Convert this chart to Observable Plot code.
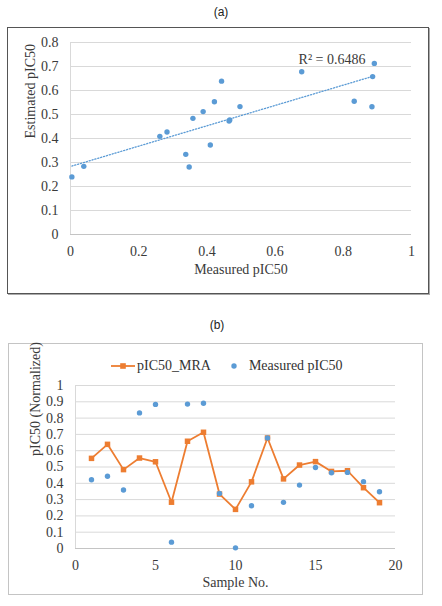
<!DOCTYPE html>
<html>
<head>
<meta charset="utf-8">
<script src="https://cdn.jsdelivr.net/npm/d3@7"></script>
<script src="https://cdn.jsdelivr.net/npm/@observablehq/plot@0.6"></script>
<style>
  body { margin: 0; background: #fff; }
  #page { position: relative; width: 442px; height: 606px; overflow: hidden; background: #fff; }
  .ttl { position: absolute; width: 40px; text-align: center; line-height: 16px;
         font-family: "Liberation Sans", Arial, sans-serif; font-size: 12px; color: #222; }
  .box { position: absolute; box-sizing: border-box; }
  #boxA { left: 7px; top: 27px; width: 422px; height: 267px; border: 1px solid #555; box-shadow: 1px 1px 0 #aaa; }
  #boxB { left: 8px; top: 343px; width: 415px; height: 252px; border: 1px solid #c4c4c4; }
  .holder { position: absolute; left: 0; }
  #legend { position: absolute; left: 111px; top: 358px; height: 16px; display: flex; align-items: center;
            font-family: "Liberation Serif", "Times New Roman", serif; font-size: 14px; color: #333; line-height: 16px; }
  #legend svg { display: block; }
</style>
</head>
<body>
<div id="page">
  <div class="ttl" style="left:201px;top:4px;">(a)</div>
  <div class="box" id="boxA"></div>
  <div class="holder" id="chartA" style="top:27px;"></div>
  <div class="ttl" style="left:197px;top:317px;">(b)</div>
  <div class="box" id="boxB"></div>
  <div id="legend"></div>
  <div class="holder" id="chartB" style="top:376px;"></div>
</div>
<script>
// ---- data ----
const sampleNo = [1, 2, 3, 4, 5, 6, 7, 8, 9, 10, 11, 12, 13, 14, 15, 16, 17, 18, 19];
const measuredPIC50 = [0.422, 0.443, 0.359, 0.832, 0.884, 0.039, 0.886, 0.891, 0.338, 0.004, 0.262, 0.678, 0.283, 0.389, 0.497, 0.465, 0.467, 0.410, 0.348];
const pIC50MRA = [0.553, 0.639, 0.484, 0.555, 0.532, 0.284, 0.658, 0.713, 0.334, 0.240, 0.409, 0.678, 0.427, 0.512, 0.533, 0.473, 0.477, 0.373, 0.281];
const seriesNames = ["pIC50_MRA", "Measured pIC50"];
const r2Label = "R² = 0.6486";
const xTitleA = "Measured pIC50";
const yTitleA = "Estimated pIC50";
const xTitleB = "Sample No.";
const yTitleB = "pIC50 (Normalized)";
const xTicksA = [0, 0.2, 0.4, 0.6, 0.8, 1];
const yTicksA = [0, 0.1, 0.2, 0.3, 0.4, 0.5, 0.6, 0.7, 0.8];
const xTicksB = [0, 5, 10, 15, 20];
const yTicksB = [0, 0.1, 0.2, 0.3, 0.4, 0.5, 0.6, 0.7, 0.8, 0.9, 1];

const rows = sampleNo.map((s, i) => ({sample: s, measured: measuredPIC50[i], mra: pIC50MRA[i]}));

const BLUE = "#5B9BD5", ORANGE = "#ED7D31", GRID = "#d9d9d9", AXIS = "#c4c4c4", INK = "#3a3a3a";
const fmt = d => String(d);
const style = {fontFamily: '"Liberation Serif", "Times New Roman", serif', fontSize: "14px",
               background: "transparent", color: INK, overflow: "visible"};

// ---- chart (a) ----
const chartA = Plot.plot({
  width: 430, height: 267,
  marginLeft: 70, marginRight: 19, marginTop: 15, marginBottom: 60,
  style,
  x: {domain: [0, 1], ticks: xTicksA, tickFormat: fmt, tickSize: 0, tickPadding: 12, label: null},
  y: {domain: [0, 0.8], ticks: yTicksA, tickFormat: fmt, tickSize: 0, tickPadding: 12, label: null},
  marks: [
    Plot.gridY(yTicksA, {stroke: GRID, strokeOpacity: 1}),
    Plot.ruleX([0], {stroke: GRID}),
    Plot.ruleY([0], {stroke: AXIS}),
    Plot.linearRegressionY(rows, {x: "measured", y: "mra", ci: 0, stroke: BLUE, strokeWidth: 1.3, strokeDasharray: "1.2,1.8"}),
    Plot.dot(rows, {x: "measured", y: "mra", r: 2.7, fill: BLUE}),
    Plot.text([r2Label], {text: d => d, frameAnchor: "top-right", textAnchor: "end", lineAnchor: "middle", dx: -46, dy: 17.5, fill: INK}),
    Plot.text([xTitleA], {text: d => d, frameAnchor: "bottom", lineAnchor: "middle", dy: 35.5, fill: INK}),
    Plot.text([yTitleA], {text: d => d, frameAnchor: "left", lineAnchor: "middle", rotate: -90, dx: -40, fill: INK})
  ]
});
document.getElementById("chartA").append(chartA);

// ---- legend (b) ----
const legend = document.getElementById("legend");
legend.innerHTML =
  `<svg width="24" height="16"><line x1="0" x2="24" y1="8" y2="8" stroke="${ORANGE}" stroke-width="1.8"/>` +
  `<rect x="9.2" y="5.2" width="5.6" height="5.6" fill="${ORANGE}"/></svg>` +
  `<span style="margin-left:2px">${seriesNames[0]}</span>` +
  `<svg width="12" height="16" style="margin-left:17px"><circle cx="6" cy="8" r="2.7" fill="${BLUE}"/></svg>` +
  `<span style="margin-left:9px">${seriesNames[1]}</span>`;

// ---- chart (b) ----
const chartB = Plot.plot({
  width: 423, height: 219,
  marginLeft: 75, marginRight: 28, marginTop: 9, marginBottom: 47,
  style,
  x: {domain: [0, 20], ticks: xTicksB, tickFormat: fmt, tickSize: 0, tickPadding: 12, label: null},
  y: {domain: [0, 1], ticks: yTicksB, tickFormat: fmt, tickSize: 0, tickPadding: 12, label: null},
  marks: [
    Plot.gridY(yTicksB, {stroke: GRID, strokeOpacity: 1}),
    Plot.ruleX([0], {stroke: GRID}),
    Plot.ruleY([0], {stroke: AXIS}),
    Plot.line(rows, {x: "sample", y: "mra", stroke: ORANGE, strokeWidth: 1.8}),
    Plot.dot(rows, {x: "sample", y: "mra", symbol: "square", r: 3.1, fill: ORANGE}),
    Plot.dot(rows, {x: "sample", y: "measured", r: 2.7, fill: BLUE}),
    Plot.text([xTitleB], {text: d => d, frameAnchor: "bottom", lineAnchor: "middle", dy: 34.5, fill: INK}),
    Plot.text([yTitleB], {text: d => d, frameAnchor: "left", lineAnchor: "middle", rotate: -90, dx: -40, dy: -11, fill: INK})
  ]
});
document.getElementById("chartB").append(chartB);
</script>
</body>
</html>
